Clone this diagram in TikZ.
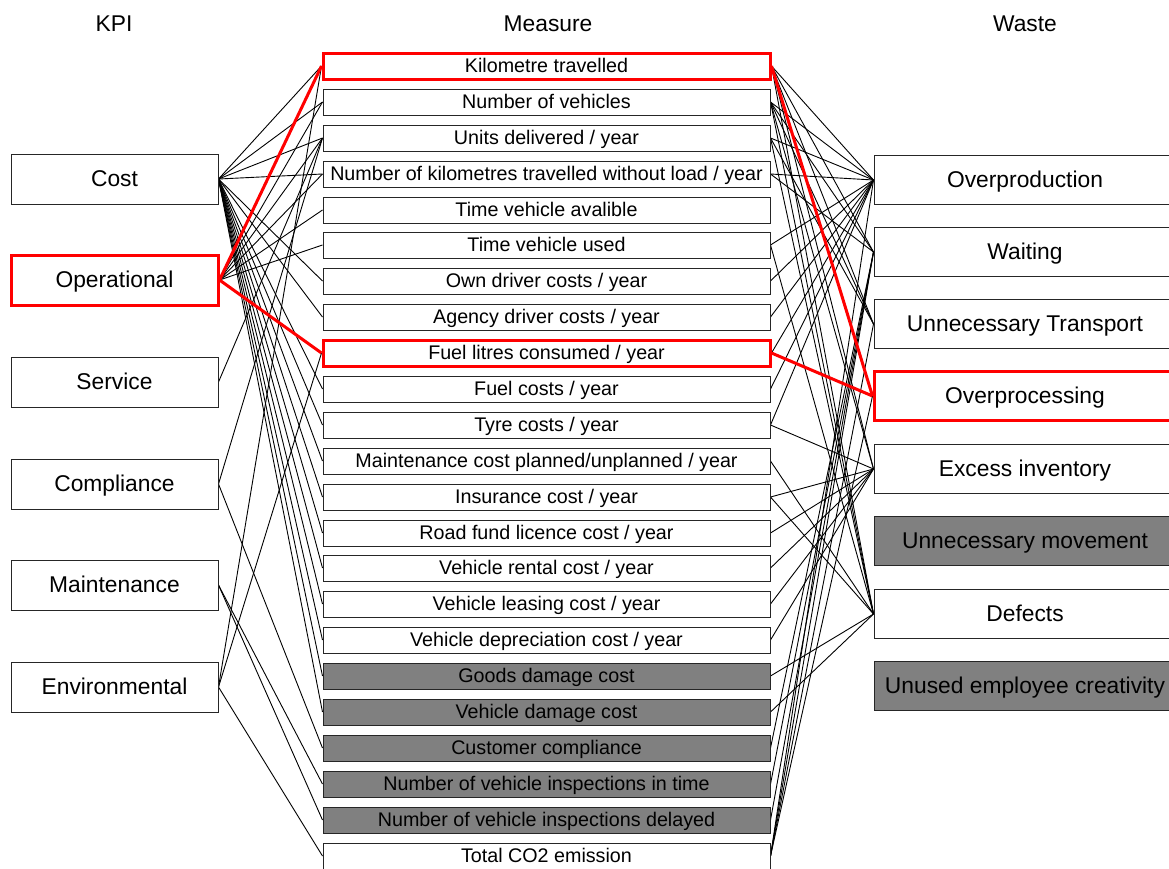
\documentclass[tikz,border=0pt]{standalone}
\usepackage{fontspec}
\setmainfont{Liberation Sans}
\usetikzlibrary{backgrounds}
\definecolor{boxgrey}{RGB}{128,128,128}
\definecolor{hired}{RGB}{255,0,0}
\begin{document}
\begin{tikzpicture}[x=1pt,y=-1pt,
  base/.style={draw=black!85, fill=white, line width=1pt, inner sep=0pt},
  kpi/.style={base, minimum width=207pt, minimum height=50pt, font=\fontsize{22.8}{26}\selectfont,
              text height=16.4pt, text depth=1pt},
  meas/.style={base, minimum width=447pt, minimum height=26pt, font=\fontsize{19.7}{22}\selectfont,
               text height=14.2pt, text depth=1pt},
  waste/.style={base, minimum width=302pt, minimum height=49pt, font=\fontsize{22.8}{26}\selectfont,
                text height=16.4pt, text depth=1pt},
  grey/.style={fill=boxgrey},
  hilite/.style={draw=hired, line width=3pt},
  head/.style={font=\fontsize{22.8}{26}\selectfont, inner sep=0pt, text height=16.4pt, text depth=1pt},
  link/.style={draw=black, line width=0.9pt},
  redlink/.style={draw=hired, line width=3pt}]
\useasboundingbox (0,0) rectangle (1169,868);

% column headings
\node[head] (hk) at (114,24) {KPI};
\node[head] (hm) at (548,24) {Measure};
\node[head] (hw) at (1025,24) {Waste};

% KPI column
\node[kpi] (L1) at (114.5,179) {Cost};
\node[kpi,hilite] (L2) at (114.5,280) {Operational};
\node[kpi] (L3) at (114.5,382) {Service};
\node[kpi] (L4) at (114.5,484) {Compliance};
\node[kpi] (L5) at (114.5,585) {Maintenance};
\node[kpi] (L6) at (114.5,687) {Environmental};

% measure column
\node[meas,hilite] (M1) at (546.5,66) {Kilometre travelled};
\node[meas] (M2) at (546.5,102) {Number of vehicles};
\node[meas] (M3) at (546.5,138) {Units delivered / year};
\node[meas] (M4) at (546.5,174) {Number of kilometres travelled without load / year};
\node[meas] (M5) at (546.5,210) {Time vehicle avalible};
\node[meas] (M6) at (546.5,245) {Time vehicle used};
\node[meas] (M7) at (546.5,281) {Own driver costs / year};
\node[meas] (M8) at (546.5,317) {Agency driver costs / year};
\node[meas,hilite] (M9) at (546.5,353) {Fuel litres consumed / year};
\node[meas] (M10) at (546.5,389) {Fuel costs / year};
\node[meas] (M11) at (546.5,425) {Tyre costs / year};
\node[meas] (M12) at (546.5,461) {Maintenance cost planned/unplanned / year};
\node[meas] (M13) at (546.5,497) {Insurance cost / year};
\node[meas] (M14) at (546.5,533) {Road fund licence cost / year};
\node[meas] (M15) at (546.5,568) {Vehicle rental cost / year};
\node[meas] (M16) at (546.5,604) {Vehicle leasing cost / year};
\node[meas] (M17) at (546.5,640) {Vehicle depreciation cost / year};
\node[meas,grey] (M18) at (546.5,676) {Goods damage cost};
\node[meas,grey] (M19) at (546.5,712) {Vehicle damage cost};
\node[meas,grey] (M20) at (546.5,748) {Customer compliance};
\node[meas,grey] (M21) at (546.5,784) {Number of vehicle inspections in time};
\node[meas,grey] (M22) at (546.5,820) {Number of vehicle inspections delayed};
\node[meas] (M23) at (546.5,856) {Total CO2 emission};

% waste column
\node[waste] (R1) at (1025,180) {Overproduction};
\node[waste] (R2) at (1025,252) {Waiting};
\node[waste] (R3) at (1025,324) {Unnecessary Transport};
\node[waste,hilite] (R4) at (1025,396) {Overprocessing};
\node[waste] (R5) at (1025,469) {Excess inventory};
\node[waste,grey] (R6) at (1025,541) {Unnecessary movement};
\node[waste] (R7) at (1025,614) {Defects};
\node[waste,grey] (R8) at (1025,686) {Unused employee creativity};

\begin{scope}[on background layer]
  % KPI to measure
  \foreach \a/\b in {1/1,1/2,1/3,1/4,1/7,1/8,1/10,1/11,1/12,1/13,1/14,1/15,1/16,1/17,1/18,1/19,
                     2/2,2/3,2/4,2/5,2/6,
                     3/3,
                     4/3,4/20,
                     5/21,5/22,
                     6/1,6/9,6/23}
    \draw[link] (L\a.east) -- (M\b.west);
  % measure to waste
  \foreach \a/\b in {1/1,1/2,1/3,1/5,1/7,
                     2/1,2/2,2/3,2/5,2/7,
                     3/1,3/3,3/7,
                     4/1,4/2,
                     6/1,6/7,
                     7/1,8/1,9/1,10/1,
                     11/1,11/5,
                     12/7,
                     13/5,13/7,
                     14/5,15/5,16/5,17/5,
                     18/7,19/7,
                     20/2,21/2,22/2,
                     23/1,23/2,23/3,23/4}
    \draw[link] (M\a.east) -- (R\b.west);
  % highlighted path
  \draw[redlink] (L2.east) -- (M1.west);
  \draw[redlink] (L2.east) -- (M9.west);
  \draw[redlink] (M1.east) -- (R4.west);
  \draw[redlink] (M9.east) -- (R4.west);
\end{scope}
\end{tikzpicture}
\end{document}
